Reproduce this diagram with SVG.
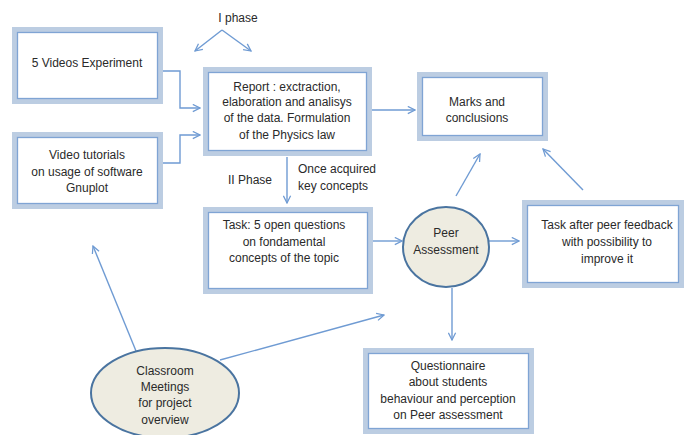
<svg xmlns="http://www.w3.org/2000/svg" width="684" height="435" viewBox="0 0 684 435">
<defs>
<style>
.bo{fill:#fff;stroke:#bccde2;stroke-width:6}
.bi{fill:none;stroke:#7fa4d4;stroke-width:1.3}
.el{fill:#eeece1;stroke:#4a74a0;stroke-width:2}
text{font-family:"Liberation Sans",Arial,sans-serif;font-size:12px;fill:#2a2a2a;text-anchor:middle}
.c path,.c line,.c polyline{fill:none;stroke:#6f9bd3;stroke-width:1.4}
</style>
<marker id="a" viewBox="0 0 10 10" refX="9" refY="5" markerWidth="9" markerHeight="9" markerUnits="userSpaceOnUse" orient="auto">
<path d="M1,1 L9,5 L1,9" fill="none" stroke="#6f9bd3" stroke-width="1.4"/>
</marker>
</defs>
<rect width="684" height="435" fill="#fff"/>
<g class="c" id="connectors">
<polyline points="222,30 195,51" marker-end="url(#a)"/>
<polyline points="222,30 251,51" marker-end="url(#a)"/>
<polyline points="161,71 180,71 180,108 200,108" marker-end="url(#a)"/>
<polyline points="161,163 180,163 180,135 200,135" marker-end="url(#a)"/>
<line x1="372" y1="110" x2="415" y2="110" marker-end="url(#a)"/>
<line x1="287" y1="157" x2="287" y2="203" marker-end="url(#a)"/>
<line x1="373" y1="241" x2="402" y2="241" marker-end="url(#a)"/>
<line x1="489" y1="241" x2="519" y2="241" marker-end="url(#a)"/>
<line x1="456" y1="196" x2="480" y2="154" marker-end="url(#a)"/>
<line x1="583" y1="190" x2="543" y2="149" marker-end="url(#a)"/>
<line x1="452" y1="288" x2="452" y2="340" marker-end="url(#a)"/>
<line x1="136" y1="351" x2="93" y2="246" marker-end="url(#a)"/>
<line x1="220" y1="360" x2="384" y2="315" marker-end="url(#a)"/>
</g>
<text x="238" y="22">I phase</text>
<text x="250" y="184">II Phase</text>
<text x="298" y="173" style="text-anchor:start">Once acquired</text>
<text x="298" y="190" style="text-anchor:start">key concepts</text>
<g id="videos">
<rect class="bo" x="15" y="30" width="145" height="71"/>
<rect class="bi" x="17.5" y="32.5" width="140" height="66"/>
<text x="87" y="67">5 Videos Experiment</text>
</g>
<g id="tutorials">
<rect class="bo" x="15" y="135" width="145" height="71"/>
<rect class="bi" x="17.5" y="137.5" width="140" height="66"/>
<text x="87" y="159">Video tutorials</text>
<text x="87" y="176">on usage of software</text>
<text x="87" y="192">Gnuplot</text>
</g>
<g id="report">
<rect class="bo" x="206" y="70" width="163" height="83"/>
<rect class="bi" x="208.5" y="72.5" width="158" height="78"/>
<text x="287" y="91">Report : exctraction,</text>
<text x="287" y="106">elaboration and analisys</text>
<text x="287" y="122">of the data. Formulation</text>
<text x="287" y="139">of  the Physics law</text>
</g>
<g id="marks">
<rect class="bo" x="420" y="75" width="125" height="63"/>
<rect class="bi" x="422.5" y="77.5" width="120" height="58"/>
<text x="477" y="106">Marks and</text>
<text x="477" y="122">conclusions</text>
</g>
<g id="task">
<rect class="bo" x="206" y="210" width="164" height="81"/>
<rect class="bi" x="208.5" y="212.5" width="159" height="76"/>
<text x="284" y="229">Task: 5 open questions</text>
<text x="284" y="246">on fondamental</text>
<text x="284" y="262">concepts of the topic</text>
</g>
<g id="peer">
<ellipse class="el" cx="446" cy="247" rx="43" ry="40"/>
<text x="446" y="237">Peer</text>
<text x="446" y="254">Assessment</text>
</g>
<g id="taskafter">
<rect class="bo" x="525" y="203" width="156" height="82"/>
<rect class="bi" x="527.5" y="205.5" width="151" height="77"/>
<text x="607" y="229">Task after peer feedback</text>
<text x="607" y="246">with possibility to</text>
<text x="607" y="263">improve it</text>
</g>
<g id="questionnaire">
<rect class="bo" x="366" y="351" width="165" height="80"/>
<rect class="bi" x="368.5" y="353.5" width="160" height="75"/>
<text x="448" y="370">Questionnaire</text>
<text x="448" y="386">about students</text>
<text x="448" y="403">behaviour and perception</text>
<text x="448" y="419">on Peer assessment</text>
</g>
<g id="classroom">
<ellipse class="el" cx="165" cy="393" rx="74" ry="45"/>
<text x="165" y="375">Classroom</text>
<text x="165" y="391">Meetings</text>
<text x="165" y="407">for project</text>
<text x="165" y="424">overview</text>
</g>
</svg>
